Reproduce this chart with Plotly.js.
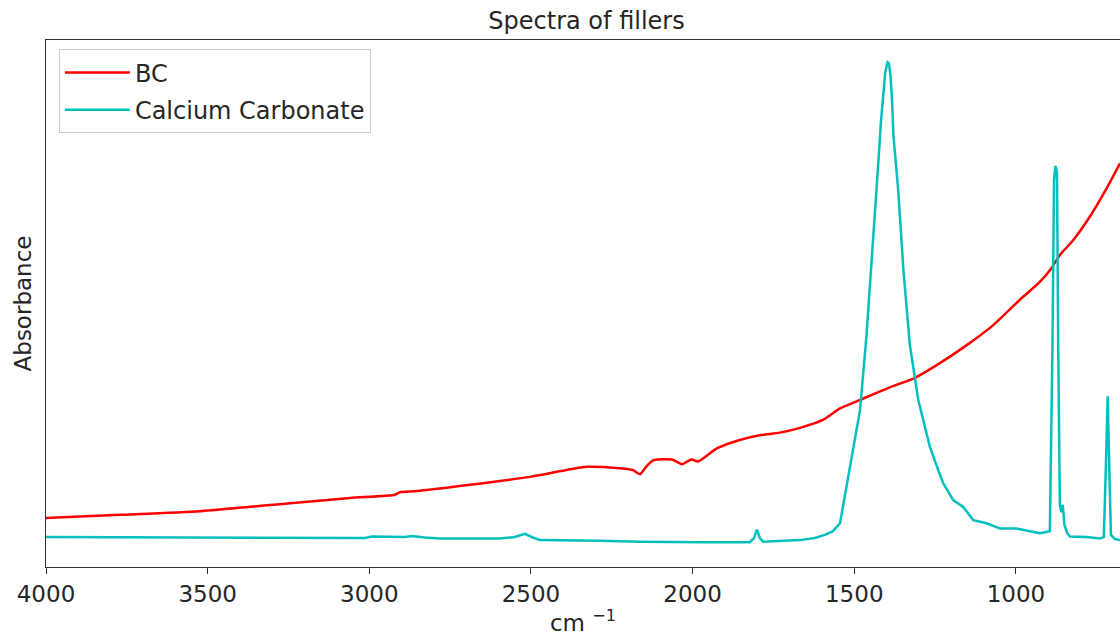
<!DOCTYPE html>
<html>
<head>
<meta charset="utf-8">
<script src="https://cdn.plot.ly/plotly-3.0.1.min.js"></script>
<style>html,body{margin:0;padding:0;background:#fff;}#chart{width:1120px;height:636px;}</style>
</head>
<body>
<div id="chart"></div>
<script>
// Wavenumbers (cm^-1) and absorbance (arbitrary units)
const bcWavenumber = [4000, 3771, 3524, 3245, 3060, 2921, 2905, 2853, 2689, 2503, 2327, 2234, 2185, 2163, 2144, 2123, 2064, 2033, 2014, 2002, 1984, 1925, 1854, 1792, 1730, 1668, 1597, 1544, 1513, 1482, 1390, 1312, 1245, 1152, 1070, 988, 926, 890, 864, 823, 771, 719, 678];
const bcAbsorbance = [0.093, 0.099, 0.106, 0.121, 0.131, 0.137, 0.142, 0.144, 0.156, 0.171, 0.190, 0.188, 0.184, 0.176, 0.190, 0.202, 0.204, 0.195, 0.201, 0.204, 0.200, 0.225, 0.241, 0.250, 0.255, 0.264, 0.279, 0.301, 0.309, 0.317, 0.341, 0.359, 0.383, 0.421, 0.459, 0.507, 0.541, 0.567, 0.592, 0.620, 0.665, 0.719, 0.766];

const caWavenumber = [4000, 3524, 3214, 3013, 2992, 2936, 2890, 2868, 2828, 2781, 2596, 2550, 2519, 2494, 2472, 2287, 2163, 1977, 1823, 1810, 1801, 1792, 1782, 1668, 1622, 1591, 1566, 1544, 1524, 1509, 1493, 1482, 1462, 1441, 1426, 1417, 1410, 1404, 1397, 1393, 1388, 1383, 1379, 1364, 1348, 1328, 1302, 1281, 1266, 1245, 1225, 1194, 1179, 1163, 1132, 1091, 1049, 998, 926, 895, 887, 882, 878, 873, 869, 864, 859, 855, 850, 842, 833, 781, 740, 728, 722, 716, 711, 706, 694, 678];
const caAbsorbance = [0.057, 0.056, 0.055, 0.055, 0.058, 0.057, 0.057, 0.059, 0.056, 0.054, 0.054, 0.057, 0.063, 0.056, 0.051, 0.050, 0.048, 0.047, 0.047, 0.055, 0.071, 0.055, 0.048, 0.051, 0.055, 0.061, 0.068, 0.083, 0.152, 0.203, 0.257, 0.298, 0.440, 0.620, 0.763, 0.848, 0.896, 0.939, 0.958, 0.956, 0.934, 0.885, 0.820, 0.715, 0.564, 0.421, 0.317, 0.264, 0.228, 0.192, 0.159, 0.127, 0.120, 0.114, 0.089, 0.083, 0.073, 0.073, 0.064, 0.068, 0.412, 0.734, 0.761, 0.750, 0.412, 0.118, 0.104, 0.118, 0.080, 0.065, 0.058, 0.057, 0.054, 0.057, 0.184, 0.324, 0.184, 0.061, 0.053, 0.051];

const seriesNames = ["BC", "Calcium Carbonate"];
const xTickVals = [4000, 3500, 3000, 2500, 2000, 1500, 1000];
const xTickText = ["4000", "3500", "3000", "2500", "2000", "1500", "1000"];

const FONT = "DejaVu Sans, sans-serif";
const TXT = "#262626";

const traces = [
  {x: bcWavenumber, y: bcAbsorbance, name: seriesNames[0], legendgroup: "a", type: "scatter", mode: "lines",
   line: {color: "#ff0000", width: 2.5, shape: "spline", smoothing: 0.6}},
  {x: caWavenumber, y: caAbsorbance, name: seriesNames[1], legendgroup: "b", type: "scatter", mode: "lines",
   line: {color: "#00bfbf", width: 2.5}}
];

const layout = {
  width: 1120, height: 636,
  margin: {l: 46, r: 0, t: 40, b: 69},
  paper_bgcolor: "#ffffff", plot_bgcolor: "#ffffff",
  font: {family: FONT, color: TXT, size: 23},
  title: {text: "Spectra of fillers", font: {family: FONT, size: 24, color: TXT},
          x: 0.5237, xanchor: "center", y: 0.968, yanchor: "middle"},
  showlegend: true,
  legend: {x: 0.012, y: 0.982, xanchor: "left", yanchor: "top",
           bgcolor: "rgba(255,255,255,0.8)", bordercolor: "#cccccc", borderwidth: 1,
           font: {family: FONT, size: 24, color: TXT}, itemwidth: 65, tracegroupgap: 3},
  xaxis: {range: [4000, 678], autorange: false, tickvals: xTickVals, ticktext: xTickText,
          showgrid: false, zeroline: false, showline: true, linecolor: "#333333", linewidth: 1, mirror: true,
          ticks: "outside", ticklen: 6, tickcolor: "#333333", tickfont: {family: FONT, size: 23, color: TXT},
          title: {text: "cm <sup>−1</sup>", font: {family: FONT, size: 23, color: TXT}, standoff: 4}},
  yaxis: {range: [0, 1], autorange: false, showticklabels: false, ticks: "", showgrid: false, zeroline: false,
          showline: true, linecolor: "#333333", linewidth: 1, mirror: false,
          title: {text: "Absorbance", font: {family: FONT, size: 23, color: TXT}, standoff: 6}}
};

Plotly.newPlot("chart", traces, layout, {displayModeBar: false, staticPlot: true});
</script>
</body>
</html>
